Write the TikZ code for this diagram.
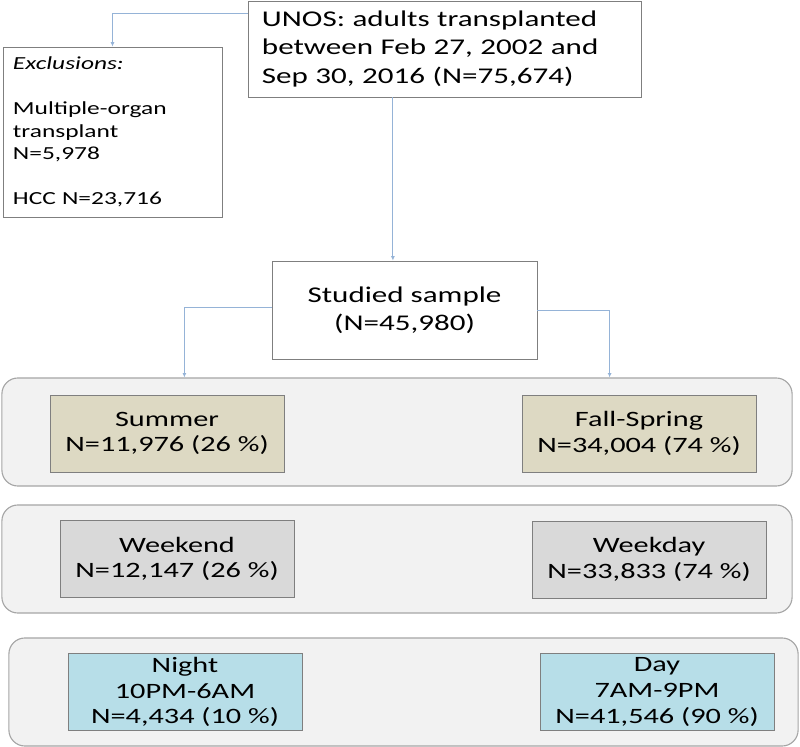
\documentclass[tikz,border=0pt]{standalone}
\usepackage{fontspec}
\setmainfont{Carlito}[FakeStretch=1.38]
\usepackage{xcolor}
\usetikzlibrary{arrows.meta,positioning}
\definecolor{link}{HTML}{95B3D7}
\definecolor{edge}{HTML}{7F7F7F}
\definecolor{bandedge}{HTML}{A6A6A6}
\definecolor{band}{HTML}{F2F2F2}
\definecolor{tan}{HTML}{DDD9C3}
\definecolor{grey}{HTML}{D9D9D9}
\definecolor{sky}{HTML}{B7DEE8}
\tikzset{
  box/.style={draw=edge, line width=0.6pt, fill=white, inner sep=0pt},
  big/.style={font=\fontsize{16}{20.2}\selectfont},
  mid/.style={font=\fontsize{15.6}{18.2}\selectfont},
  small/.style={font=\fontsize{13.1}{16}\selectfont},
  band/.style={draw=bandedge, line width=0.8pt, fill=band, rounded corners=0.4cm,
    minimum width=19.75cm, minimum height=2.7cm},
  group/.style={box, mid, align=center, minimum width=5.85cm, minimum height=1.925cm},
  link/.style={draw=link, line width=0.6pt, -{Latex[length=1.1mm,width=1mm]}},
}
\begin{document}
\begin{tikzpicture}[x=0.025cm, y=-0.025cm]
  \useasboundingbox (0,0) rectangle (800,747);

  % source and exclusions
  \node[box, big, align=left, text width=9.125cm, inner xsep=0.35cm,
        minimum height=2.4cm] (unos) at (444.5,49)
    {UNOS: adults transplanted\\between Feb 27, 2002 and\\Sep 30, 2016 (N=75,674)};
  \node[box, small, align=left, text width=4.975cm, inner xsep=0.25cm,
        minimum height=4.25cm] (excl) at (112.5,132)
    {\textit{Exclusions:}\\[16pt]Multiple-organ\\transplant\\N=5,978\\[16pt]HCC N=23,716};
  \node[box, big, align=center, minimum width=6.625cm, minimum height=2.45cm] (stud)
    at (404.5,310) {Studied sample\\(N=45,980)};

  % the three strata
  \node[band] (season) at (397,432) {};
  \node[band] (week)   at (397,559) {};
  \node[band, minimum width=19.725cm] (hour) at (403.5,692) {};

  \node[group, fill=tan]  (summer)  at (167,433.5) {Summer\\N=11,976 (26 \%)};
  \node[group, fill=tan]  (fall)    at (639,433.5) {Fall-Spring\\N=34,004 (74 \%)};
  \node[group, fill=grey] (weekend) at (177,559) {Weekend\\N=12,147 (26 \%)};
  \node[group, fill=grey] (weekday) at (649,559.5) {Weekday\\N=33,833 (74 \%)};
  \node[group, fill=sky]  (night)   at (185,692) {Night\\10PM-6AM\\N=4,434 (10 \%)};
  \node[group, fill=sky]  (day)     at (657,692) {Day\\7AM-9PM\\N=41,546 (90 \%)};

  % connectors
  \coordinate (drop) at ([xshift=-0.29cm]stud.north);
  \draw[link] ([yshift=-0.325cm]unos.north west) -| (excl.north);
  \draw[link] (drop |- unos.south) -- (drop);
  \draw[link] ([yshift=0.075cm]stud.west) -| ([xshift=4.575cm]season.north west);
  \draw[link] (stud.east) -| ([xshift=-4.575cm]season.north east);
\end{tikzpicture}
\end{document}
